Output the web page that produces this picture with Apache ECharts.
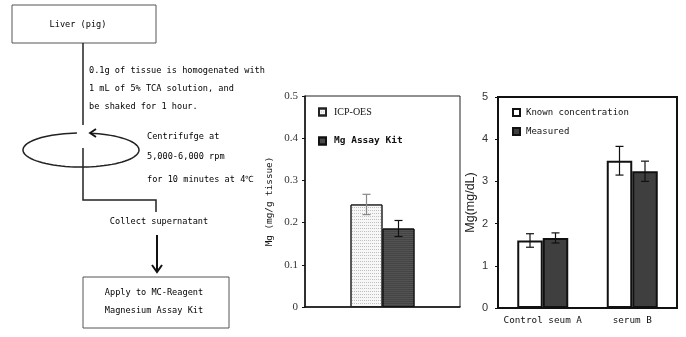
<!DOCTYPE html>
<html>
<head>
<meta charset="utf-8">
<script src="https://cdn.jsdelivr.net/npm/echarts@6/dist/echarts.min.js"></script>
<style>
  html, body { margin: 0; padding: 0; background: #fff; }
  #chart { width: 686px; height: 337px; }
</style>
</head>
<body>
<div id="chart"></div>
<script>
// ---- Data ----
const tissueCategories = ['Liver (pig)'];
const icpValues = [0.243];
const icpErrors = [0.024];
const kitValues = [0.186];
const kitErrors = [0.019];

const serumCategories = ['Control seum A', 'serum B'];
const knownValues = [1.60, 3.49];
const knownErrors = [0.16, 0.34];
const measuredValues = [1.66, 3.24];
const measuredErrors = [0.12, 0.24];

const tissueAxis = { min: 0, max: 0.5, interval: 0.1 };
const serumAxis = { min: 0, max: 5, interval: 1 };

const MONO = '"DejaVu Sans Mono", "Liberation Mono", monospace';

// ---- Error bar helper ----
function errorSeries(name, xi, yi, values, errs, offset, color, cap) {
  return {
    name: name, type: 'custom', xAxisIndex: xi, yAxisIndex: yi, z: 5,
    data: values.map((v, i) => [i, v - errs[i], v + errs[i]]),
    renderItem: function (params, api) {
      const lo = api.coord([api.value(0), api.value(1)]);
      const hi = api.coord([api.value(0), api.value(2)]);
      const x = lo[0] + offset;
      const st = { stroke: color, lineWidth: 1.2 };
      return {
        type: 'group',
        children: [
          { type: 'line', shape: { x1: x, y1: lo[1], x2: x, y2: hi[1] }, style: st },
          { type: 'line', shape: { x1: x - cap, y1: lo[1], x2: x + cap, y2: lo[1] }, style: st },
          { type: 'line', shape: { x1: x - cap, y1: hi[1], x2: x + cap, y2: hi[1] }, style: st }
        ]
      };
    }
  };
}

// ---- Flowchart (diagram, not data) ----
function ellipsePoints(cx, cy, rx, ry, a0, a1, n) {
  const pts = [];
  for (let k = 0; k <= n; k++) {
    const t = (a0 + (a1 - a0) * k / n) * Math.PI / 180;
    pts.push([cx + rx * Math.cos(t), cy - ry * Math.sin(t)]);
  }
  return pts;
}
const lineStyle = { stroke: '#222', lineWidth: 1.5, fill: null };
function txt(x, y, s, align) {
  return { type: 'text', x: x, y: y, style: { text: s, font: '8.6px ' + MONO, fill: '#000', align: align || 'left', verticalAlign: 'middle' } };
}
const flow = [
  { type: 'rect', shape: { x: 12, y: 5, width: 144, height: 38 }, style: { stroke: '#555', lineWidth: 1, fill: '#fff' } },
  txt(78, 25, 'Liver (pig)', 'center'),
  { type: 'line', shape: { x1: 83, y1: 43, x2: 83, y2: 125 }, style: lineStyle },
  txt(89, 71, '0.1g of tissue is homogenated with'),
  txt(89, 89, '1 mL of 5% TCA solution, and'),
  txt(89, 107, 'be shaked for 1 hour.'),
  { type: 'polyline', shape: { points: ellipsePoints(81, 150, 58, 17, 94, 441, 80) }, style: lineStyle },
  { type: 'polyline', shape: { points: [[96, 129], [90, 133], [96, 137]] }, style: { stroke: '#111', lineWidth: 1.8, fill: null } },
  { type: 'polyline', shape: { points: [[83, 148], [83, 200], [156, 200], [156, 212]] }, style: lineStyle },
  txt(147, 137, 'Centrifufge at'),
  txt(147, 157, '5,000-6,000 rpm'),
  txt(147, 180, 'for 10 minutes at 4℃'),
  txt(159, 222, 'Collect supernatant', 'center'),
  { type: 'line', shape: { x1: 157, y1: 235, x2: 157, y2: 272 }, style: { stroke: '#111', lineWidth: 2 } },
  { type: 'polyline', shape: { points: [[152, 265], [157, 272], [162, 265]] }, style: { stroke: '#111', lineWidth: 2, fill: null } },
  { type: 'rect', shape: { x: 83, y: 277, width: 146, height: 51 }, style: { stroke: '#555', lineWidth: 1, fill: '#fff' } },
  txt(154, 293, 'Apply to MC-Reagent', 'center'),
  txt(154, 311, 'Magnesium Assay Kit', 'center')
];

const chart = echarts.init(document.getElementById('chart'), null, { renderer: 'canvas' });

const dotDecal = { symbol: 'rect', symbolSize: 1, dashArrayX: [1, 1], dashArrayY: [1, 2], color: 'rgba(120,120,120,0.45)' };
const stripeDecal = { symbol: 'rect', symbolSize: 1, dashArrayX: [[1, 0]], dashArrayY: [1, 1], color: 'rgba(90,90,90,0.6)' };

const legendBase = { orient: 'vertical', itemWidth: 7, itemHeight: 7, icon: 'rect', itemGap: 0, padding: 0, selectedMode: false };

const option = {
  backgroundColor: '#fff',
  animation: false,
  graphic: flow,
  grid: [
    { left: 305, top: 96, width: 155, height: 211, show: true, borderColor: '#222', borderWidth: 1, backgroundColor: 'transparent' },
    { left: 498, top: 97, width: 179, height: 211, show: true, borderColor: '#111', borderWidth: 2, backgroundColor: 'transparent' }
  ],
  legend: [
    Object.assign({}, legendBase, { data: ['ICP-OES'], left: 318, top: 107,
      textStyle: { fontFamily: '"Liberation Serif", "Times New Roman", serif', fontSize: 10, color: '#111', padding: [0, 0, 0, 3] } }),
    Object.assign({}, legendBase, { data: ['Mg Assay Kit'], left: 318, top: 136,
      textStyle: { fontFamily: MONO, fontSize: 9.5, fontWeight: 'bold', color: '#111', padding: [0, 0, 0, 3] } }),
    Object.assign({}, legendBase, { data: ['Known concentration'], left: 512, top: 108,
      textStyle: { fontFamily: MONO, fontSize: 9, color: '#111', padding: [0, 0, 0, 1] } }),
    Object.assign({}, legendBase, { data: ['Measured'], left: 512, top: 127,
      textStyle: { fontFamily: MONO, fontSize: 9, color: '#111', padding: [0, 0, 0, 1] } })
  ],
  xAxis: [
    { type: 'category', gridIndex: 0, data: tissueCategories,
      axisLine: { lineStyle: { color: '#111', width: 1.5 } }, axisTick: { show: false }, axisLabel: { show: false } },
    { type: 'category', gridIndex: 1, data: serumCategories,
      axisLine: { lineStyle: { color: '#111', width: 2 } }, axisTick: { show: false },
      axisLabel: { interval: 0, fontFamily: MONO, fontSize: 9.3, color: '#111', margin: 8 } }
  ],
  yAxis: [
    { type: 'value', gridIndex: 0, min: tissueAxis.min, max: tissueAxis.max, interval: tissueAxis.interval,
      name: 'Mg (mg/g tissue)', nameLocation: 'middle', nameGap: 31, nameRotate: 90,
      nameTextStyle: { fontFamily: MONO, fontSize: 9.3, color: '#111' },
      axisLine: { show: true, lineStyle: { color: '#111', width: 1.5 } },
      axisTick: { show: true, length: 3, lineStyle: { color: '#111' } },
      splitLine: { show: false },
      axisLabel: { fontFamily: '"Liberation Serif", "Times New Roman", serif', fontSize: 11, color: '#333', margin: 7 } },
    { type: 'value', gridIndex: 1, min: serumAxis.min, max: serumAxis.max, interval: serumAxis.interval,
      name: 'Mg(mg/dL)', nameLocation: 'middle', nameGap: 21, nameRotate: 90,
      nameTextStyle: { fontFamily: '"Liberation Sans", Arial, sans-serif', fontSize: 12.5, color: '#222' },
      axisLine: { show: true, lineStyle: { color: '#111', width: 2 } },
      axisTick: { show: true, length: 3, lineStyle: { color: '#111' } },
      splitLine: { show: false },
      axisLabel: { fontFamily: '"Liberation Sans", Arial, sans-serif', fontSize: 11, color: '#333', margin: 10 } }
  ],
  series: [
    { name: 'ICP-OES', type: 'bar', xAxisIndex: 0, yAxisIndex: 0, data: icpValues, barWidth: 32, barGap: '0%',
      itemStyle: { color: '#f7f7f7', borderColor: '#222', borderWidth: 1, decal: dotDecal } },
    { name: 'Mg Assay Kit', type: 'bar', xAxisIndex: 0, yAxisIndex: 0, data: kitValues, barWidth: 32, barGap: '0%',
      itemStyle: { color: '#454545', borderColor: '#111', borderWidth: 1, decal: stripeDecal } },
    errorSeries('icpErr', 0, 0, icpValues, icpErrors, -16, '#888', 4),
    errorSeries('kitErr', 0, 0, kitValues, kitErrors, 16, '#111', 4),
    { name: 'Known concentration', type: 'bar', xAxisIndex: 1, yAxisIndex: 1, data: knownValues, barWidth: 25.5, barGap: '0%',
      itemStyle: { color: '#ffffff', borderColor: '#111', borderWidth: 2 } },
    { name: 'Measured', type: 'bar', xAxisIndex: 1, yAxisIndex: 1, data: measuredValues, barWidth: 25.5, barGap: '0%',
      itemStyle: { color: '#3f3f3f', borderColor: '#111', borderWidth: 2 } },
    errorSeries('knownErr', 1, 1, knownValues, knownErrors, -12.75, '#111', 4),
    errorSeries('measuredErr', 1, 1, measuredValues, measuredErrors, 12.75, '#111', 4)
  ]
};
chart.setOption(option);
</script>
</body>
</html>
